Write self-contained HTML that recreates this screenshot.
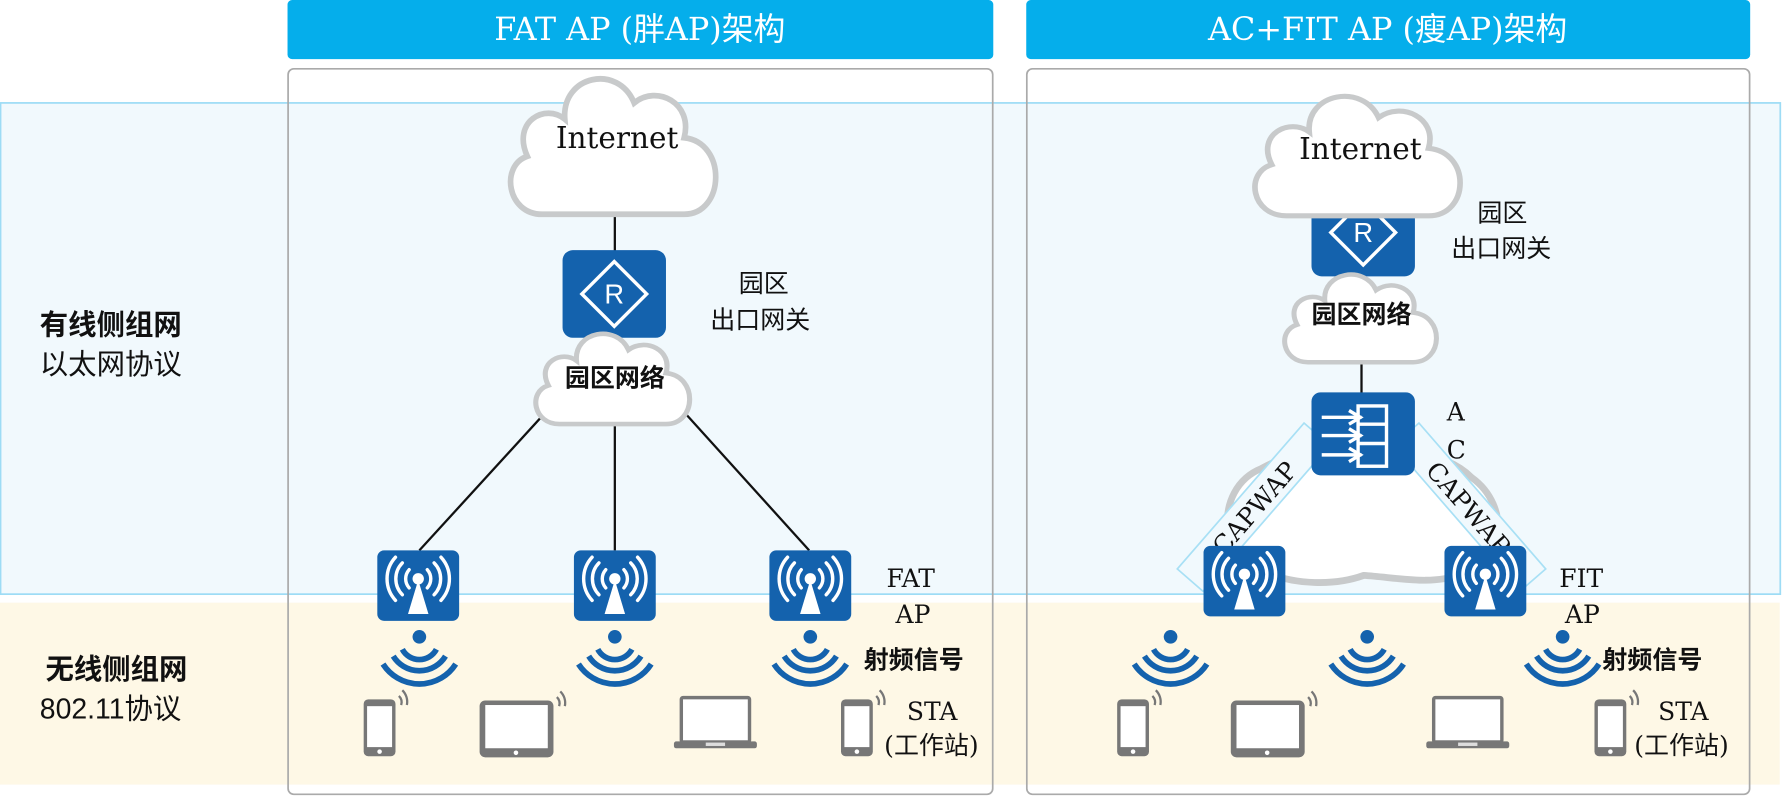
<!DOCTYPE html>
<html><head><meta charset="utf-8"><style>
html,body{margin:0;padding:0;background:#fff;width:1782px;height:796px;overflow:hidden}
svg{display:block}
.ser{font-family:"DejaVu Serif","Liberation Serif",serif}
.cjk{font-family:"Liberation Sans","Noto Sans CJK SC",sans-serif}
</style></head><body>
<svg width="1782" height="796" viewBox="0 0 1568 700" preserveAspectRatio="none" xmlns="http://www.w3.org/2000/svg">
<defs>
<path id="cloud" d="M35,122 C4,122 -2,80 22,72 C8,42 38,26 55,40 C52,2 102,-8 116,26 C136,10 168,26 160,56 C198,60 196,122 160,122 Z"/>
<path id="bigcloud" d="M40,112 C5,110 -5,40 40,22 C70,5 100,5 125,12 C150,2 200,5 225,30 C260,55 255,110 215,115 C190,125 160,118 130,116 C105,125 70,125 40,112 Z"/>
<g id="ap">
<rect x="0" y="0" width="72" height="62" rx="6" fill="#1462ad"/>
<polygon points="36,26 27,56 45,56" fill="#fff"/>
<circle cx="36" cy="25" r="5" fill="#fff"/>
<g fill="none" stroke="#fff" stroke-width="3" stroke-linecap="round">
<path d="M28,17 A12,12 0 0 0 28,33"/><path d="M44,17 A12,12 0 0 1 44,33"/>
<path d="M22,11 A20,20 0 0 0 22,39"/><path d="M50,11 A20,20 0 0 1 50,39"/>
<path d="M16,6 A28,28 0 0 0 16,44"/><path d="M56,6 A28,28 0 0 1 56,44"/>
</g></g>
<g id="sig" fill="none" stroke="#1462ad" stroke-width="5">
<circle cx="0" cy="0" r="6" fill="#1462ad" stroke="none"/>
<path d="M-15,11 A17,17 0 0 0 15,11"/>
<path d="M-23,17 A27,27 0 0 0 23,17"/>
<path d="M-32,24 A38,38 0 0 0 32,24"/>
</g>
<g id="phone"><rect x="0" y="0" width="28" height="50" rx="4" fill="#777"/><rect x="3" y="6" width="22" height="36" fill="#fff"/><circle cx="14" cy="46" r="2" fill="#fff"/>
<path d="M31,-3 A8,8 0 0 1 33,5 M34,-8 A14,14 0 0 1 38,5" stroke="#777" stroke-width="2" fill="none"/></g>
<g id="tablet"><rect x="0" y="0" width="65" height="50" rx="5" fill="#777"/><rect x="5" y="4" width="55" height="38" fill="#fff"/><circle cx="32" cy="46" r="2" fill="#fff"/>
<path d="M68,-3 A8,8 0 0 1 70,5 M71,-8 A14,14 0 0 1 75,5" stroke="#777" stroke-width="2" fill="none"/></g>
<g id="laptop"><rect x="5" y="0" width="63" height="42" rx="3" fill="#777"/><rect x="8" y="3" width="57" height="36" fill="#fff"/><rect x="0" y="40" width="73" height="6" rx="2" fill="#777"/><rect x="28" y="41" width="17" height="3" fill="#ddd"/></g>
<g id="router"><rect x="0" y="0" width="91" height="77" rx="9" fill="#1462ad"/>
<polygon points="45.5,10 74,38.5 45.5,67 17,38.5" fill="none" stroke="#fff" stroke-width="3"/>
<text x="45.5" y="47" text-anchor="middle" font-family="Liberation Sans,sans-serif" font-size="24" fill="#fff">R</text></g>
</defs>

<rect x="0.5" y="90.5" width="1566" height="432" fill="#f1f9fd" stroke="#9ddcf5" stroke-width="1.5"/>
<rect x="0" y="530" width="1566" height="160" fill="#fef8e6"/>

<rect x="253" y="0" width="621" height="52" rx="4" fill="#05aeeb"/>
<rect x="903" y="0" width="637" height="52" rx="4" fill="#05aeeb"/>
<text x="563" y="35" text-anchor="middle" class="ser" font-size="28" fill="#fff">FAT AP (<tspan class="cjk">胖</tspan>AP)<tspan class="cjk">架构</tspan></text>
<text x="1221" y="35" text-anchor="middle" class="ser" font-size="28" fill="#fff">AC+FIT AP (<tspan class="cjk">瘦</tspan>AP)<tspan class="cjk">架构</tspan></text>

<rect x="253.5" y="60.5" width="620" height="638" rx="5" fill="none" stroke="#aaa" stroke-width="1.5"/>
<rect x="903.5" y="60.5" width="636" height="638" rx="5" fill="none" stroke="#aaa" stroke-width="1.5"/>

<g class="cjk" font-size="25" fill="#111">
<text x="35" y="294" font-weight="bold">有线侧组网</text>
<text x="35" y="329">以太网协议</text>
<text x="40" y="597" font-weight="bold">无线侧组网</text>
<text x="35" y="632">802.11协议</text>
</g>

<g stroke="#111" stroke-width="2">
<line x1="541" y1="185" x2="541" y2="222"/>
<line x1="487" y1="355" x2="369" y2="484"/>
<line x1="541" y1="368" x2="541" y2="484"/>
<line x1="598" y1="358" x2="712" y2="484"/>
</g>
<use href="#cloud" transform="translate(442,64) scale(1,1.02)" fill="#fff" stroke="#c8cacb" stroke-width="5"/>
<text x="543" y="130" text-anchor="middle" class="ser" font-size="26" fill="#111">Internet</text>
<use href="#router" x="495" y="220"/>
<use href="#cloud" transform="translate(466,290) scale(0.75,0.68)" fill="#fff" stroke="#c8cacb" stroke-width="6"/>
<text x="541" y="340" text-anchor="middle" class="cjk" font-size="22" font-weight="bold" fill="#111">园区网络</text>
<g class="cjk" font-size="22" fill="#111"><text x="650" y="257">园区</text><text x="625" y="289">出口网关</text></g>
<use href="#ap" x="332" y="484"/><use href="#ap" x="505" y="484"/><use href="#ap" x="677" y="484"/>
<g class="ser" font-size="22" fill="#111"><text x="780" y="516">FAT</text><text x="788" y="548">AP</text></g>
<use href="#sig" x="369" y="560"/><use href="#sig" x="541" y="560"/><use href="#sig" x="713" y="560"/>
<text x="760" y="588" class="cjk" font-size="22" font-weight="bold" fill="#111">射频信号</text>
<use href="#phone" x="320" y="615"/><use href="#tablet" x="422" y="616"/><use href="#laptop" x="593" y="612"/><use href="#phone" x="740" y="615"/>
<g class="ser" font-size="22" fill="#111"><text x="798" y="633">STA</text><text x="778" y="663">(<tspan class="cjk">工作站</tspan>)</text></g>

<use href="#bigcloud" transform="translate(1070,390)" fill="#fff" stroke="#c8cacb" stroke-width="6"/>
<line x1="1198" y1="315" x2="1198" y2="346" stroke="#111" stroke-width="2"/>
<use href="#router" transform="translate(1154,166)"/>
<use href="#cloud" transform="translate(1097,80) scale(1,0.9)" fill="#fff" stroke="#c8cacb" stroke-width="5"/>
<text x="1197" y="140" text-anchor="middle" class="ser" font-size="26" fill="#111">Internet</text>
<use href="#cloud" transform="translate(1125,238) scale(0.74,0.66)" fill="#fff" stroke="#c8cacb" stroke-width="6"/>
<text x="1198" y="284" text-anchor="middle" class="cjk" font-size="22" font-weight="bold" fill="#111">园区网络</text>
<g class="cjk" font-size="22" fill="#111"><text x="1300" y="195">园区</text><text x="1277" y="226">出口网关</text></g>
<g transform="translate(1103,446) rotate(-49)">
<rect x="-85" y="-15" width="170" height="30" fill="#f1f9fd" stroke="#a8e0f5" stroke-width="1.5"/>
<text x="0" y="9" text-anchor="middle" class="ser" font-size="22" fill="#111">CAPWAP</text></g>
<g transform="translate(1293,446) rotate(49)">
<rect x="-85" y="-15" width="170" height="30" fill="#f1f9fd" stroke="#a8e0f5" stroke-width="1.5"/>
<text x="0" y="9" text-anchor="middle" class="ser" font-size="22" fill="#111">CAPWAP</text></g>
<rect x="1154" y="345" width="91" height="73" rx="8" fill="#1462ad"/>
<g stroke="#fff" stroke-width="3" fill="none">
<rect x="1195" y="357" width="25" height="53"/>
<line x1="1195" y1="373" x2="1220" y2="373"/><line x1="1195" y1="390" x2="1220" y2="390"/>
<line x1="1163" y1="367" x2="1198" y2="367"/><line x1="1163" y1="383" x2="1198" y2="383"/><line x1="1163" y1="400" x2="1198" y2="400"/>
<path d="M1187,361 L1197,367 L1187,373 M1187,377 L1197,383 L1187,389 M1187,394 L1197,400 L1187,406"/>
</g>
<g class="ser" font-size="22" fill="#111"><text x="1273" y="370">A</text><text x="1273" y="403">C</text></g>
<use href="#ap" x="1059" y="480"/><use href="#ap" x="1271" y="480"/>
<g class="ser" font-size="22" fill="#111"><text x="1372" y="516">FIT</text><text x="1377" y="548">AP</text></g>
<use href="#sig" x="1030" y="560"/><use href="#sig" x="1203" y="560"/><use href="#sig" x="1375" y="560"/>
<text x="1410" y="588" class="cjk" font-size="22" font-weight="bold" fill="#111">射频信号</text>
<use href="#phone" x="983" y="615"/><use href="#tablet" x="1083" y="616"/><use href="#laptop" x="1255" y="612"/><use href="#phone" x="1403" y="615"/>
<g class="ser" font-size="22" fill="#111"><text x="1459" y="633">STA</text><text x="1438" y="663">(<tspan class="cjk">工作站</tspan>)</text></g>
</svg>
</body></html>
